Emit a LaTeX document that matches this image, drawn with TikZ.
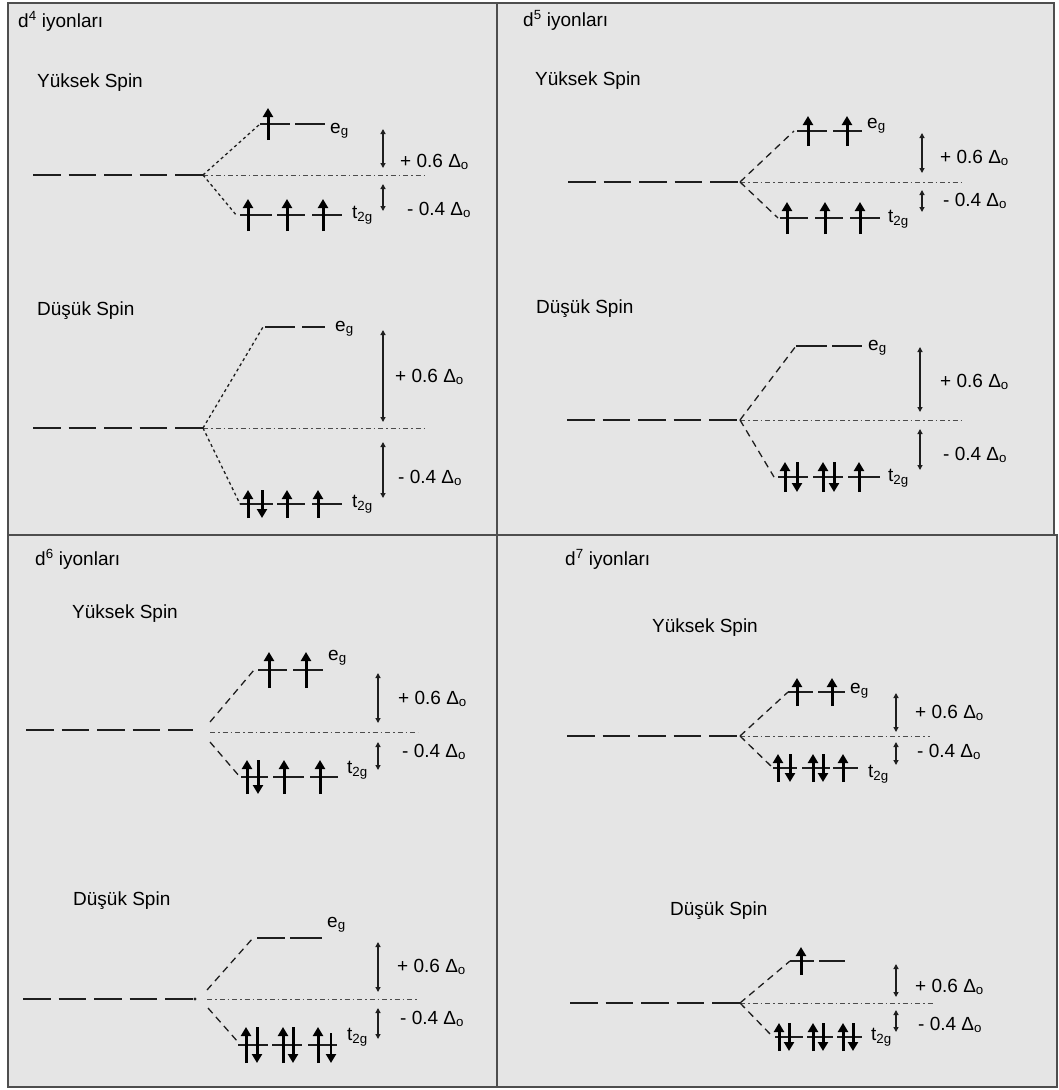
\documentclass[tikz,border=0pt]{standalone}
\usepackage{fontspec}
\setmainfont{Liberation Sans}
\usetikzlibrary{arrows.meta}

\definecolor{panelbg}{RGB}{229,229,229}
\definecolor{framecol}{RGB}{78,78,78}
\definecolor{inkcol}{RGB}{30,30,30}

\tikzset{
  panel/.style={fill=panelbg, draw=framecol, line width=2.4pt},
  lbl/.style={anchor=base west, inner sep=0pt, font=\fontsize{19}{22}\selectfont, text=black},
  degline/.style={draw=inkcol, line width=2pt, dash pattern=on 27.5pt off 8pt},
  orbital/.style={draw=inkcol, line width=2pt},
  splitdot/.style={draw=inkcol, line width=1.3pt, dash pattern=on 3pt off 3pt},
  splitdash/.style={draw=inkcol, line width=1.3pt, dash pattern=on 7pt off 5pt},
  refline/.style={draw=black!70, line width=1pt, dash pattern=on 5pt off 3pt on 1.5pt off 3pt},
  spin/.style={draw=black, line width=3pt, -{Triangle[length=9pt,width=10pt]}},
  gaparrow/.style={draw=inkcol, line width=1.4pt,
    {Triangle[length=5pt,width=5pt]}-{Triangle[length=5pt,width=5pt]}},
}

% electron spins: x, level y, half length
\newcommand\spinup[3]{\draw[spin] (#1,#2+#3) -- (#1,#2-#3);}
\newcommand\spindn[3]{\draw[spin] (#1,#2-#3) -- (#1,#2+#3);}

\begin{document}
\begin{tikzpicture}[x=1pt,y=-1pt]
\useasboundingbox (0,0) rectangle (1059,1090);
\fill[white] (0,0) rectangle (1059,1090);

% four panels
\draw[panel] (8,3) rectangle (497,535);
\draw[panel] (497,3) rectangle (1054,535);
\draw[panel] (8,535) rectangle (497,1087);
\draw[panel] (497,535) rectangle (1057,1087);

% ================= d4 =================
\node[lbl] (d4title) at (18,27) {d\textsuperscript{4} iyonları};
% high spin
\node[lbl] (d4hs) at (37,87) {Yüksek Spin};
\coordinate (d4h-deg) at (33,175);
\coordinate (d4h-c) at (203,175);
\coordinate (d4h-ref) at (425,175);
\coordinate (d4h-eg) at (260,124);
\coordinate (d4h-t) at (237,216);
\draw[degline] (d4h-deg) -- (d4h-c);
\draw[refline] (d4h-c) -- (d4h-ref);
\draw[splitdot] (d4h-c) -- (d4h-eg);
\draw[splitdot] (d4h-c) -- (d4h-t);
\draw[orbital] (260,124) -- (290,124) (295,124) -- (325,124);
\draw[orbital] (240,215) -- (272,215) (277,215) -- (305,215) (312,215) -- (342,215);
\spinup{268}{124}{16}
\spinup{248}{215}{16} \spinup{287}{215}{16} \spinup{323}{215}{16}
\node[lbl] (d4h-eglab) at (330,133) {e\textsubscript{g}};
\node[lbl] (d4h-tlab) at (352,218) {t\textsubscript{2g}};
\node[lbl] (d4h-plus) at (400,167) {+ 0.6 Δ\textsubscript{o}};
\node[lbl] (d4h-minus) at (407,215) {- 0.4 Δ\textsubscript{o}};
\draw[gaparrow] (383,129) -- (383,168);
\draw[gaparrow] (383,184) -- (383,211);
% low spin
\node[lbl] (d4ls) at (37,315) {Düşük Spin};
\coordinate (d4l-deg) at (33,428);
\coordinate (d4l-c) at (203,428);
\coordinate (d4l-ref) at (425,428);
\coordinate (d4l-eg) at (263,327);
\coordinate (d4l-t) at (240,504);
\draw[degline] (d4l-deg) -- (d4l-c);
\draw[refline] (d4l-c) -- (d4l-ref);
\draw[splitdot] (d4l-c) -- (d4l-eg);
\draw[splitdot] (d4l-c) -- (d4l-t);
\draw[orbital] (265,327) -- (295,327) (302,327) -- (325,327);
\draw[orbital] (240,504) -- (273,504) (277,504) -- (305,504) (312,504) -- (342,504);
\spinup{248}{504}{14} \spindn{262}{504}{14} \spinup{287}{504}{14} \spinup{318}{504}{14}
\node[lbl] (d4l-eglab) at (335,331) {e\textsubscript{g}};
\node[lbl] (d4l-tlab) at (352,507) {t\textsubscript{2g}};
\node[lbl] (d4l-plus) at (395,382) {+ 0.6 Δ\textsubscript{o}};
\node[lbl] (d4l-minus) at (398,483) {- 0.4 Δ\textsubscript{o}};
\draw[gaparrow] (383,330) -- (383,422);
\draw[gaparrow] (383,442) -- (383,498);

% ================= d5 =================
\node[lbl] (d5title) at (523,26) {d\textsuperscript{5} iyonları};
% high spin
\node[lbl] (d5hs) at (535,85) {Yüksek Spin};
\coordinate (d5h-deg) at (568,182);
\coordinate (d5h-c) at (740,182);
\coordinate (d5h-ref) at (963,182);
\coordinate (d5h-eg) at (794,131);
\coordinate (d5h-t) at (778,218);
\draw[degline] (d5h-deg) -- (d5h-c);
\draw[refline] (d5h-c) -- (d5h-ref);
\draw[splitdash] (d5h-c) -- (d5h-eg);
\draw[splitdash] (d5h-c) -- (d5h-t);
\draw[orbital] (797,131) -- (827,131) (833,131) -- (862,131);
\draw[orbital] (780,218) -- (808,218) (815,218) -- (843,218) (850,218) -- (880,218);
\spinup{808}{131}{15} \spinup{847}{131}{15}
\spinup{787}{218}{16} \spinup{825}{218}{16} \spinup{860}{218}{16}
\node[lbl] (d5h-eglab) at (867,128) {e\textsubscript{g}};
\node[lbl] (d5h-tlab) at (888,222) {t\textsubscript{2g}};
\node[lbl] (d5h-plus) at (940,163) {+ 0.6 Δ\textsubscript{o}};
\node[lbl] (d5h-minus) at (943,206) {- 0.4 Δ\textsubscript{o}};
\draw[gaparrow] (922,133) -- (922,173);
\draw[gaparrow] (922,190) -- (922,212);
% low spin
\node[lbl] (d5ls) at (536,313) {Düşük Spin};
\coordinate (d5l-deg) at (567,420);
\coordinate (d5l-c) at (740,420);
\coordinate (d5l-ref) at (962,420);
\coordinate (d5l-eg) at (796,346);
\coordinate (d5l-t) at (774,477);
\draw[degline] (d5l-deg) -- (d5l-c);
\draw[refline] (d5l-c) -- (d5l-ref);
\draw[splitdash] (d5l-c) -- (d5l-eg);
\draw[splitdash] (d5l-c) -- (d5l-t);
\draw[orbital] (796,346) -- (827,346) (832,346) -- (862,346);
\draw[orbital] (778,477) -- (808,477) (813,477) -- (843,477) (848,477) -- (880,477);
\spinup{785}{477}{15} \spindn{797}{477}{15}
\spinup{823}{477}{15} \spindn{834}{477}{15}
\spinup{859}{477}{15}
\node[lbl] (d5l-eglab) at (868,350) {e\textsubscript{g}};
\node[lbl] (d5l-tlab) at (888,481) {t\textsubscript{2g}};
\node[lbl] (d5l-plus) at (940,387) {+ 0.6 Δ\textsubscript{o}};
\node[lbl] (d5l-minus) at (943,460) {- 0.4 Δ\textsubscript{o}};
\draw[gaparrow] (920,347) -- (920,412);
\draw[gaparrow] (920,429) -- (920,470);

% ================= d6 =================
\node[lbl] (d6title) at (35,565) {d\textsuperscript{6} iyonları};
% high spin
\node[lbl] (d6hs) at (72,618) {Yüksek Spin};
\coordinate (d6h-deg) at (26,730);
\coordinate (d6h-end) at (193,730);
\coordinate (d6h-ref0) at (210,732);
\coordinate (d6h-ref) at (418,732);
\coordinate (d6h-cu) at (210,722);
\coordinate (d6h-cl) at (210,742);
\coordinate (d6h-eg) at (254,670);
\coordinate (d6h-t) at (240,777);
\draw[degline] (d6h-deg) -- (d6h-end);
\draw[refline] (d6h-ref0) -- (d6h-ref);
\draw[splitdash] (d6h-cu) -- (d6h-eg);
\draw[splitdash] (d6h-cl) -- (d6h-t);
\draw[orbital] (258,670) -- (287,670) (293,670) -- (323,670);
\draw[orbital] (241,777) -- (268,777) (273,777) -- (304,777) (310,777) -- (338,777);
\spinup{269}{670}{18} \spinup{306}{670}{18}
\spinup{247}{777}{17} \spindn{258}{777}{17}
\spinup{284}{777}{17} \spinup{320}{777}{17}
\node[lbl] (d6h-eglab) at (328,660) {e\textsubscript{g}};
\node[lbl] (d6h-tlab) at (347,773) {t\textsubscript{2g}};
\node[lbl] (d6h-plus) at (398,704) {+ 0.6 Δ\textsubscript{o}};
\node[lbl] (d6h-minus) at (402,757) {- 0.4 Δ\textsubscript{o}};
\draw[gaparrow] (378,673) -- (378,723);
\draw[gaparrow] (378,742) -- (378,770);
% low spin
\node[lbl] (d6ls) at (73,905) {Düşük Spin};
\coordinate (d6l-deg) at (23,999);
\coordinate (d6l-end) at (195,999);
\coordinate (d6l-ref0) at (207,999);
\coordinate (d6l-ref) at (418,999);
\coordinate (d6l-cu) at (207,990);
\coordinate (d6l-cl) at (208,1008);
\coordinate (d6l-eg) at (253,938);
\coordinate (d6l-t) at (238,1042);
\draw[degline] (d6l-deg) -- (d6l-end);
\fill[inkcol] (d6l-end) circle (1.6);
\draw[refline] (d6l-ref0) -- (d6l-ref);
\draw[splitdash] (d6l-cu) -- (d6l-eg);
\draw[splitdash] (d6l-cl) -- (d6l-t);
\draw[orbital] (257,938) -- (285,938) (290,938) -- (322,938);
\draw[orbital] (238,1045) -- (268,1045) (272,1045) -- (302,1045) (308,1045) -- (337,1045);
\spinup{246}{1045}{18} \spindn{257}{1045}{18}
\spinup{283}{1045}{18} \spindn{293}{1045}{18}
\spinup{318}{1045}{18}
\draw[spin, line width=2pt] (331,1033) -- (331,1063);
\node[lbl] (d6l-eglab) at (327,927) {e\textsubscript{g}};
\node[lbl] (d6l-tlab) at (347,1040) {t\textsubscript{2g}};
\node[lbl] (d6l-plus) at (397,972) {+ 0.6 Δ\textsubscript{o}};
\node[lbl] (d6l-minus) at (400,1024) {- 0.4 Δ\textsubscript{o}};
\draw[gaparrow] (378,942) -- (378,992);
\draw[gaparrow] (378,1008) -- (378,1039);

% ================= d7 =================
\node[lbl] (d7title) at (565,565) {d\textsuperscript{7} iyonları};
% high spin
\node[lbl] (d7hs) at (652,632) {Yüksek Spin};
\coordinate (d7h-deg) at (567,736);
\coordinate (d7h-c) at (740,736);
\coordinate (d7h-ref) at (930,736);
\coordinate (d7h-eg) at (788,692);
\coordinate (d7h-t) at (773,768);
\draw[degline] (d7h-deg) -- (d7h-c);
\draw[refline] (d7h-c) -- (d7h-ref);
\draw[splitdash] (d7h-c) -- (d7h-eg);
\draw[splitdash] (d7h-c) -- (d7h-t);
\draw[orbital] (788,692) -- (813,692) (818,692) -- (845,692);
\draw[orbital] (773,768) -- (797,768) (802,768) -- (830,768) (833,768) -- (858,768);
\spinup{797}{692}{14} \spinup{832}{692}{14}
\spinup{778}{768}{14} \spindn{790}{768}{14}
\spinup{813}{768}{14} \spindn{823}{768}{14}
\spinup{843}{768}{14}
\node[lbl] (d7h-eglab) at (850,693) {e\textsubscript{g}};
\node[lbl] (d7h-tlab) at (868,777) {t\textsubscript{2g}};
\node[lbl] (d7h-plus) at (915,718) {+ 0.6 Δ\textsubscript{o}};
\node[lbl] (d7h-minus) at (917,757) {- 0.4 Δ\textsubscript{o}};
\draw[gaparrow] (896,693) -- (896,732);
\draw[gaparrow] (896,742) -- (896,765);
% low spin
\node[lbl] (d7ls) at (670,915) {Düşük Spin};
\coordinate (d7l-deg) at (570,1003);
\coordinate (d7l-c) at (740,1003);
\coordinate (d7l-ref) at (933,1003);
\coordinate (d7l-eg) at (790,961);
\coordinate (d7l-t) at (773,1037);
\draw[degline] (d7l-deg) -- (d7l-c);
\draw[refline] (d7l-c) -- (d7l-ref);
\draw[splitdash] (d7l-c) -- (d7l-eg);
\draw[splitdash] (d7l-c) -- (d7l-t);
\draw[orbital] (790,961) -- (814,961) (819,961) -- (845,961);
\draw[orbital] (775,1037) -- (803,1037) (807,1037) -- (833,1037) (837,1037) -- (862,1037);
\spinup{801}{961}{14}
\spinup{779}{1037}{14} \spindn{789}{1037}{14}
\spinup{813}{1037}{14} \spindn{823}{1037}{14}
\spinup{843}{1037}{14} \spindn{853}{1037}{14}
\node[lbl] (d7l-tlab) at (871,1040) {t\textsubscript{2g}};
\node[lbl] (d7l-plus) at (915,992) {+ 0.6 Δ\textsubscript{o}};
\node[lbl] (d7l-minus) at (918,1030) {- 0.4 Δ\textsubscript{o}};
\draw[gaparrow] (896,964) -- (896,997);
\draw[gaparrow] (896,1010) -- (896,1032);
\end{tikzpicture}
\end{document}
